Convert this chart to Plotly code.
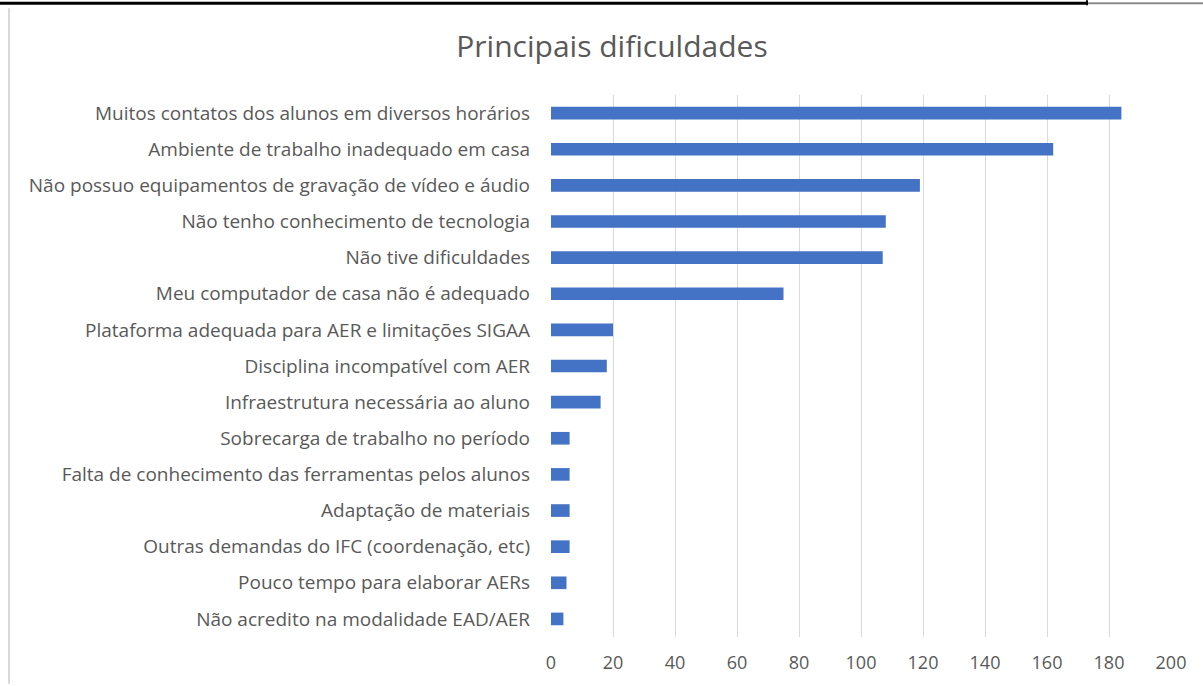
import plotly.graph_objects as go

categories = [
    "Muitos contatos dos alunos em diversos horários",
    "Ambiente de trabalho inadequado em casa",
    "Não possuo equipamentos de gravação de vídeo e áudio",
    "Não tenho conhecimento de tecnologia",
    "Não tive dificuldades",
    "Meu computador de casa não é adequado",
    "Plataforma adequada para AER e limitações SIGAA",
    "Disciplina incompatível com AER",
    "Infraestrutura necessária ao aluno",
    "Sobrecarga de trabalho no período",
    "Falta de conhecimento das ferramentas pelos alunos",
    "Adaptação de materiais",
    "Outras demandas do IFC (coordenação, etc)",
    "Pouco tempo para elaborar AERs",
    "Não acredito na modalidade EAD/AER",
]
values = [184, 162, 119, 108, 107, 75, 20, 18, 16, 6, 6, 6, 6, 5, 4]
x_ticks = [0, 20, 40, 60, 80, 100, 120, 140, 160, 180, 200]

W, H = 1203, 686
ML, MR, MT, MB = 551, 32, 95, 47
PW, PH = W - ML - MR, H - MT - MB

def px(x):
    return (x - ML) / PW

def py(y):
    return (H - MB - y) / PH

FONT = "Open Sans"
TXT = "#595959"

fig = go.Figure(
    go.Bar(
        x=values,
        y=categories,
        orientation="h",
        marker=dict(color="#4472C4", line=dict(width=0)),
        hoverinfo="x+y",
    )
)

fig.update_layout(
    width=W,
    height=H,
    margin=dict(l=ML, r=MR, t=MT, b=MB, pad=0),
    paper_bgcolor="white",
    plot_bgcolor="white",
    bargap=0.65,
    showlegend=False,
    title=dict(
        text="Principais dificuldades",
        x=612 / W,
        xanchor="center",
        y=1 - 46 / H,
        yanchor="middle",
        font=dict(family=FONT, size=30, color=TXT),
    ),
    xaxis=dict(
        range=[0, 200],
        tickvals=x_ticks,
        ticktext=[str(v) for v in x_ticks],
        showgrid=True,
        gridcolor="#D9D9D9",
        gridwidth=1,
        zeroline=False,
        showline=False,
        ticks="",
        tickfont=dict(family=FONT, size=18, color=TXT),
        ticklabelstandoff=13,
        fixedrange=True,
    ),
    yaxis=dict(
        autorange="reversed",
        showgrid=False,
        zeroline=False,
        showline=False,
        ticks="",
        tickfont=dict(family=FONT, size=19, color=TXT),
        ticklabelstandoff=20,
        fixedrange=True,
    ),
    shapes=[
        dict(type="line", xref="paper", yref="paper",
             x0=px(0), x1=px(1087), y0=py(3), y1=py(3),
             line=dict(color="black", width=3)),
        dict(type="line", xref="paper", yref="paper",
             x0=px(1087), x1=px(1087), y0=py(0), y1=py(5),
             line=dict(color="black", width=2)),
        dict(type="line", xref="paper", yref="paper",
             x0=px(1088), x1=px(1203), y0=py(3), y1=py(3),
             line=dict(color="#8C8C8C", width=2)),
        dict(type="line", xref="paper", yref="paper",
             x0=px(9), x1=px(9), y0=py(8), y1=py(686),
             line=dict(color="#D9D9D9", width=2)),
    ],
)

fig.write_html(
    "out.html",
    config={"displayModeBar": False},
    post_script="document.body.style.margin='0';document.body.style.overflow='hidden';",
)
